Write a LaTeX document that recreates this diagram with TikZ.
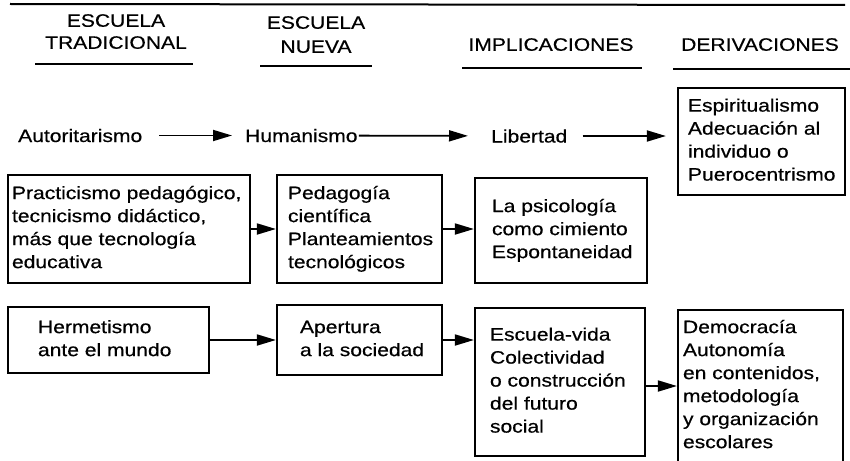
\documentclass[tikz,border=0pt]{standalone}
\usepackage{fontspec}
\setmainfont{Liberation Sans}[FakeStretch=1.17,FakeBold=0.5]
\usetikzlibrary{arrows.meta}
\newcommand\bxt[2]{\makebox[#1][l]{\begin{tabular}{@{}l@{}}#2\end{tabular}}}
\begin{document}
\begin{tikzpicture}[x=1pt,y=-1pt,
  every node/.style={font=\fontsize{18}{23}\selectfont},
  box/.style={draw, line width=2.2pt, inner sep=0pt},
  word/.style={inner sep=0pt, text height=13pt, text depth=0pt, anchor=west},
  head/.style={inner sep=0pt, align=center, anchor=north, font=\fontsize{18}{22}\selectfont},
  rule/.style={line width=2pt},
  arr/.style={line width=1.8pt, -{Triangle[length=19pt,width=11pt]}}]
\useasboundingbox (0,0) rectangle (850,460);
\fill[white] (0,0) rectangle (850,460);

% top rule
\draw[rule] (10,4) -- (845,5);

% headers
\node[head] (h1) at (116,14) {ESCUELA\\TRADICIONAL};
\node[head, font=\fontsize{18}{24}\selectfont] (h2) at (316,16) {ESCUELA\\NUEVA};
\node[head] (h3) at (551,38) {IMPLICACIONES};
\node[head] (h4) at (760,38) {DERIVACIONES};
\draw[rule] (35,64) -- (193,64);
\draw[rule] (260,66) -- (372,66);
\draw[rule] (462,68) -- (642,68);
\draw[rule] (673,69) -- (850,69);

% first row
\node[word] (aut) at (18,135.5) {Autoritarismo};
\node[word] (hum) at (245,135.5) {Humanismo};
\node[word] (lib) at (491,136) {Libertad};
\node[box, minimum width=167pt, minimum height=107pt] (d1) at (761.5,141.5)
  {\bxt{147pt}{Espiritualismo\\Adecuación al\\individuo o\\Puerocentrismo}};

% second row
\node[box, minimum width=242pt, minimum height=108pt] (p1) at (129,229)
  {\bxt{234pt}{Practicismo pedagógico,\\tecnicismo didáctico,\\más que tecnología\\educativa}};
\node[box, minimum width=165pt, minimum height=108pt] (p2) at (359.5,229)
  {\bxt{143pt}{Pedagogía\\científica\\Planteamientos\\tecnológicos}};
\node[box, minimum width=172pt, minimum height=105pt] (p3) at (561,230.5)
  {\bxt{138pt}{La psicología\\como cimiento\\Espontaneidad}};

% third row
\node[box, minimum width=201pt, minimum height=66pt] (q1) at (108.5,340)
  {\bxt{141pt}{Hermetismo\\ante el mundo}};
\node[box, minimum width=165pt, minimum height=70pt] (q2) at (359.5,340)
  {\bxt{119pt}{Apertura\\a la sociedad}};
\node[box, minimum width=170pt, minimum height=148pt] (q3) at (560,382)
  {\bxt{140pt}{Escuela-vida\\Colectividad\\o construcción\\del futuro\\social}};
\node[box, minimum width=165pt, minimum height=152pt] (q4) at (760.5,386)
  {\bxt{155pt}{Democracía\\Autonomía\\en contenidos,\\metodología\\y organización\\escolares}};

% connectors
\draw[arr, shorten <=17pt, shorten >=13pt] (aut) -- (hum);
\draw[arr, shorten <=1pt, shorten >=23pt] (hum) -- (lib);
\draw[arr, shorten <=15pt, shorten >=11pt] (lib.east) -- (lib.east -| d1.west);
\draw[arr] (p1) -- (p2);
\draw[arr] (p2.east) -- (p2.east -| p3.west);
\draw[arr] (q1) -- (q2);
\draw[arr] (q2.east) -- (q2.east -| q3.west);
\draw[arr] (q4.west -| q3.east) -- (q4.west);
\end{tikzpicture}
\end{document}
